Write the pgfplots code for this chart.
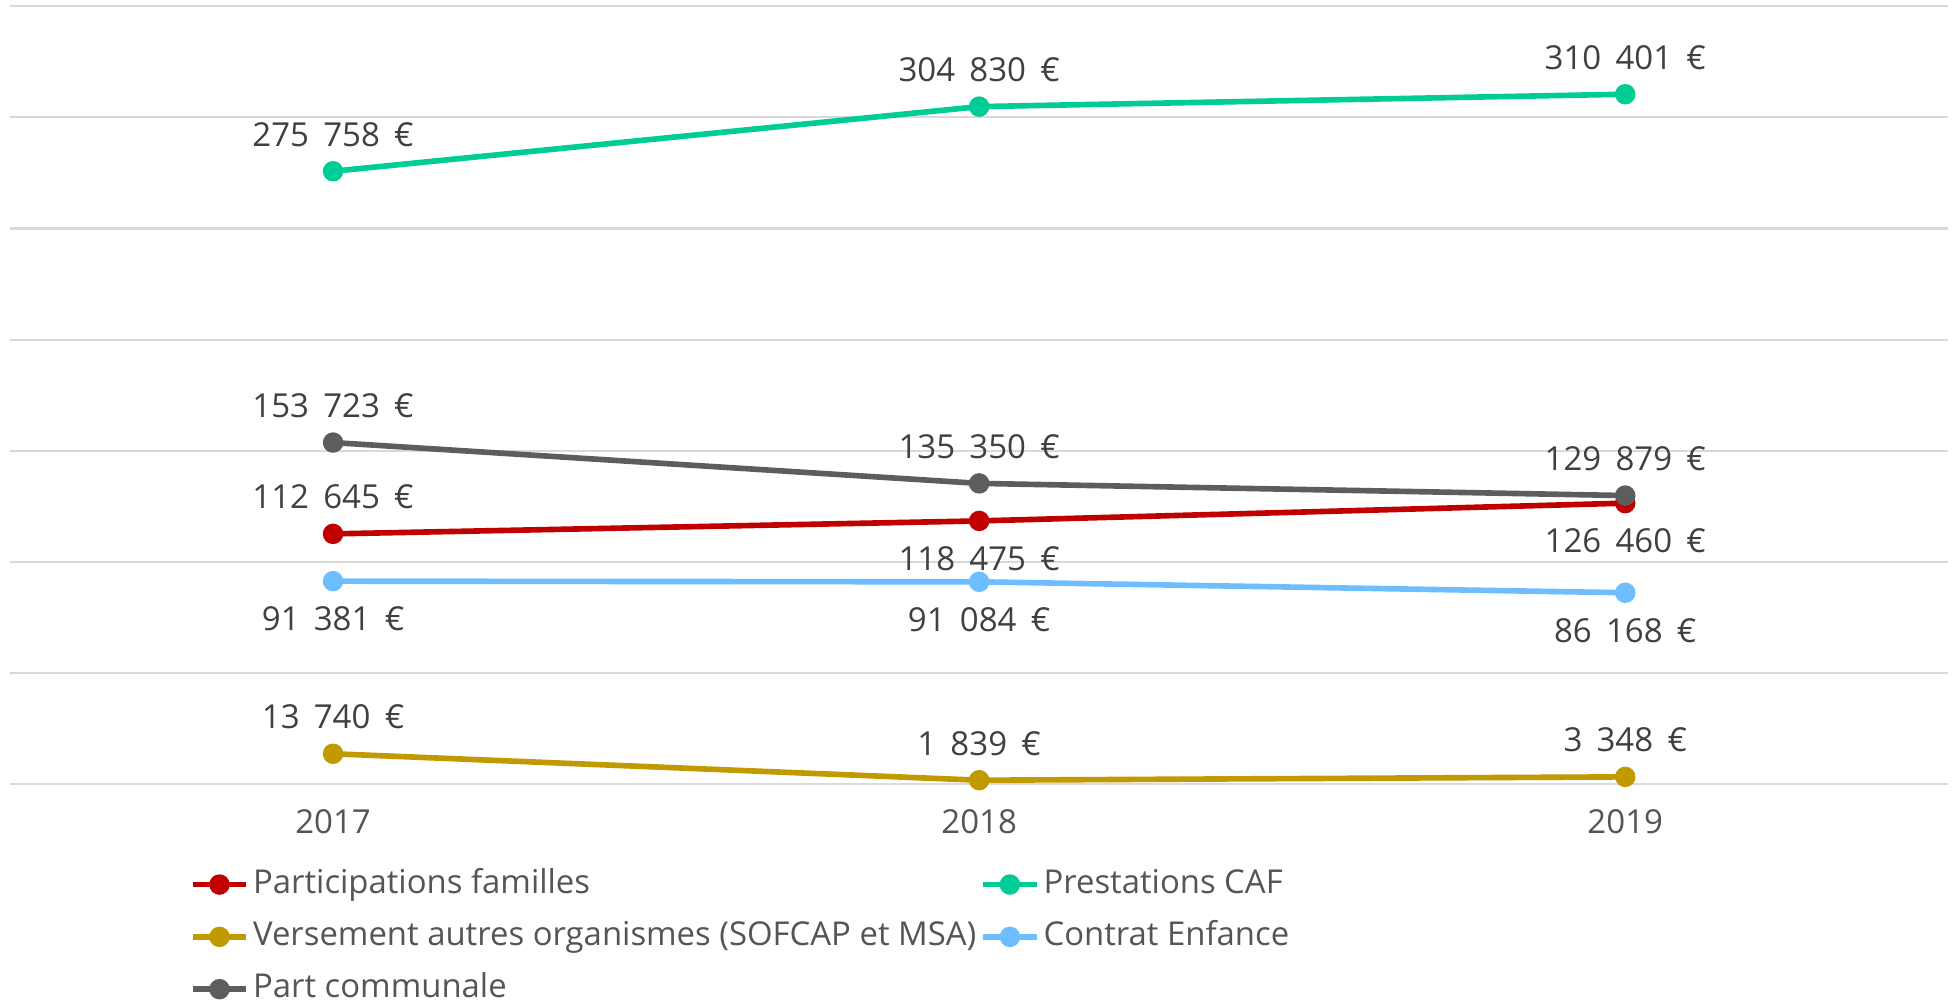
\documentclass[border=0pt]{standalone}
\usepackage{fontspec}
\setmainfont{Open Sans}
\usepackage{pgfplots}
\pgfplotsset{compat=1.18}
\usetikzlibrary{calc}
\definecolor{cred}{RGB}{192,0,0}
\definecolor{cgreen}{RGB}{0,204,150}
\definecolor{cgold}{RGB}{192,154,0}
\definecolor{cblue}{RGB}{110,190,255}
\definecolor{cgray}{RGB}{93,93,93}
\definecolor{gridc}{RGB}{217,217,217}
\definecolor{labc}{RGB}{64,64,64}
\definecolor{legc}{RGB}{85,85,85}
% wider gap between digit groups, as in the reference
\newcommand\gs{\hspace{0.43em}}
\pgfplotsset{
  serie/.style={#1, line width=1.6pt, mark=*, mark size=2.1pt, mark options={solid, fill=#1, draw=#1},
    nodes near coords, point meta=explicit symbolic,
    visualization depends on={value \thisrow{dy} \as \dy},
    every node near coord/.append style={anchor=center, yshift=\dy mm, text=labc, inner sep=0pt,
      font=\fontsize{9.4}{11}\selectfont}},
}
\begin{document}
\begin{tikzpicture}
\begin{axis}[
  name=ax,
  width=193.8mm, height=77.8mm, scale only axis,
  xmin=-0.5, xmax=2.5, ymin=0, ymax=350000,
  xtick={0,1,2}, xticklabels={2017,2018,2019},
  ytick={0,50000,...,350000}, yticklabel=\empty,
  ymajorgrids, grid style={draw=gridc, line width=0.6pt},
  axis line style={draw=none}, tick style={draw=none}, major tick length=0pt,
  xticklabel style={anchor=center, yshift=-3.7mm, text=legc, font=\fontsize{9.4}{11}\selectfont},
  clip=false,
  legend columns=2,
  legend cell align=left,
  legend style={at={(0.0925,-0.108)}, anchor=north west, draw=none, fill=none, inner sep=0pt,
    font=\fontsize{9.35}{11}\selectfont, text=legc,
    nodes={inner sep=0pt, text height=2.4mm, text depth=0.7mm},
    /tikz/column sep=0.4mm, /tikz/row sep=2.13mm},
  legend image code/.code={\draw[#1, mark repeat=2, mark phase=2] plot coordinates {(0mm,0mm) (2.67mm,0mm) (5.35mm,0mm)};},
]
\addplot[serie=cred] table[meta=lab, col sep=comma] {
x,y,lab,dy
0,112645,112\gs 645\gs €,3.7
1,118475,118\gs 475\gs €,-3.8
2,126460,126\gs 460\gs €,-3.8
};
\addlegendentry{Participations familles}
\addplot[serie=cgreen] table[meta=lab, col sep=comma] {
x,y,lab,dy
0,275758,275\gs 758\gs €,3.7
1,304830,304\gs 830\gs €,3.7
2,310401,310\gs 401\gs €,3.7
};
\addlegendentry{Prestations CAF}
\addplot[serie=cgold] table[meta=lab, col sep=comma] {
x,y,lab,dy
0,13740,13\gs 740\gs €,3.7
1,1839,1\gs 839\gs €,3.7
2,3348,3\gs 348\gs €,3.7
};
\addlegendentry{Versement autres organismes (SOFCAP et MSA)}
\addplot[serie=cblue] table[meta=lab, col sep=comma] {
x,y,lab,dy
0,91381,91\gs 381\gs €,-3.8
1,91084,91\gs 084\gs €,-3.8
2,86168,86\gs 168\gs €,-3.8
};
\addlegendentry{Contrat Enfance}
\addplot[serie=cgray] table[meta=lab, col sep=comma] {
x,y,lab,dy
0,153723,153\gs 723\gs €,3.7
1,135350,135\gs 350\gs €,3.7
2,129879,129\gs 879\gs €,3.7
};
\addlegendentry{Part communale}
\end{axis}
\pgfresetboundingbox
\path ($(ax.south west)+(-1.0mm,-21.9mm)$) rectangle ($(ax.north east)+(0.37mm,0.62mm)$);
\end{tikzpicture}
\end{document}
